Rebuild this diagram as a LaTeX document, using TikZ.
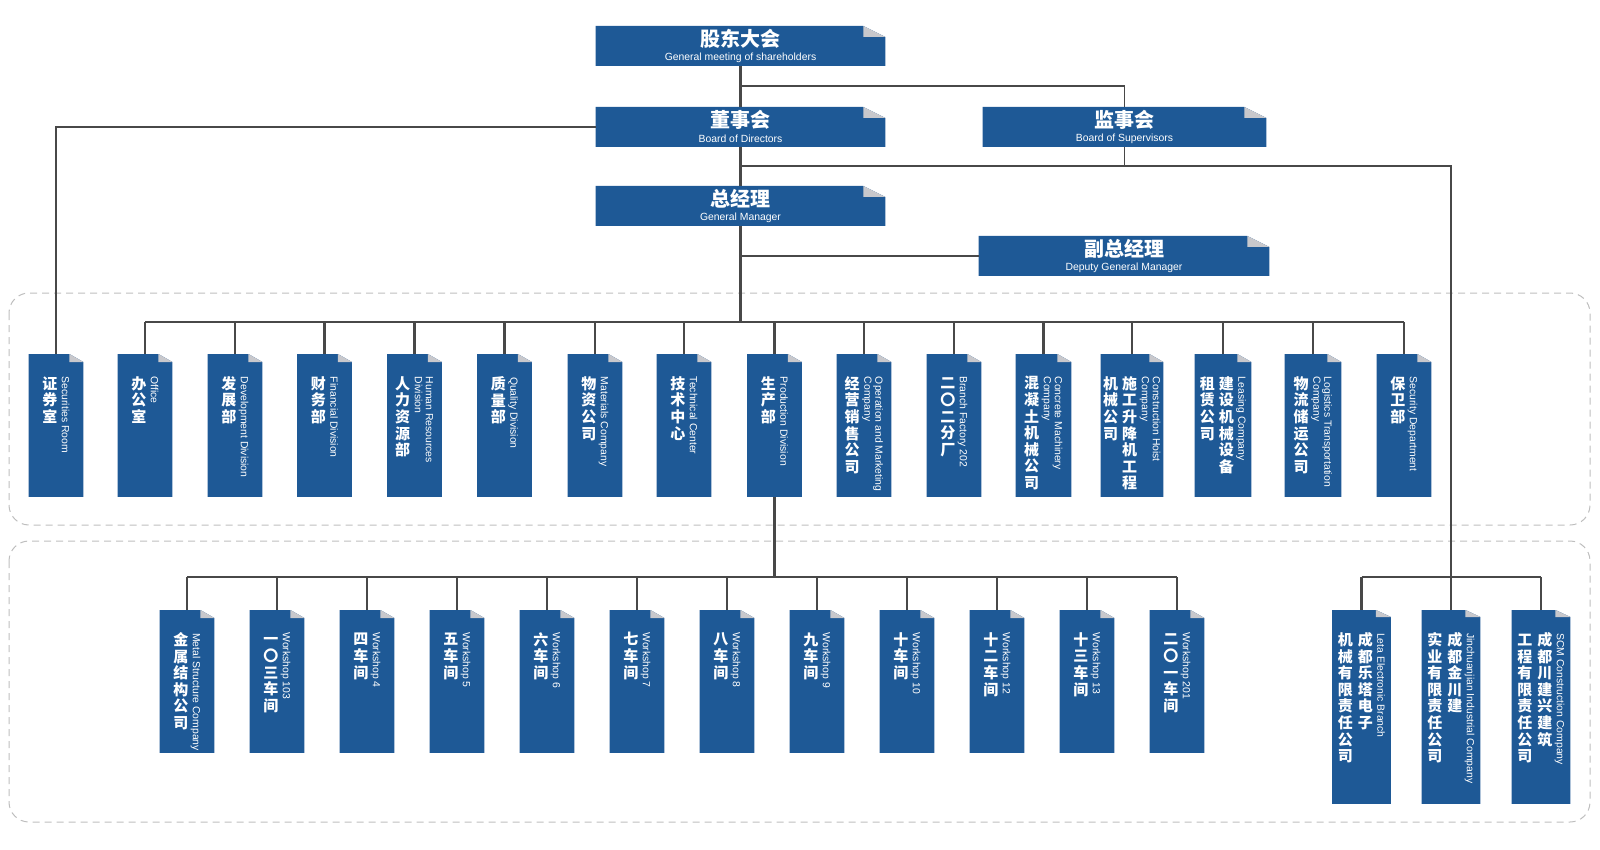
\documentclass[tikz,border=0pt]{standalone}
\usepackage{fontspec}
\usepackage{graphicx}
\setmainfont{Liberation Sans}
\newfontfamily\cjk{Noto Sans CJK SC}
\usepackage{tikz}

\definecolor{boxblue}{RGB}{30,89,150}
\definecolor{eargray}{RGB}{200,200,204}
\definecolor{linkgray}{RGB}{72,72,72}
\definecolor{zonegray}{RGB}{190,190,190}

\makeatletter
\newcommand\cnc[1]{\parbox[t]{1em}{\centering\cnc@next#1\@nil}}
\def\cnc@next#1{\ifx#1\@nil\else#1\par\expandafter\cnc@next\fi}
\makeatother
\newcommand\entag[1]{\hspace{0.6pt}\raisebox{6.2pt}{\rotatebox{-90}{\normalfont\fontsize{5.2}{5.6}\selectfont
  \begin{tabular}{@{}l@{}}#1\end{tabular}}}}
\newcommand\paintbox[3]{%
  \fill[boxblue] (#1.north west) -- ([shift={(-#2,0)}]#1.north east)
    -- ([shift={(0,#3)}]#1.north east) -- (#1.south east) -- (#1.south west) -- cycle;
  \fill[eargray] ([shift={(-#2,0)}]#1.north east) -- ([shift={(-#2,#3)}]#1.north east)
    -- ([shift={(0,#3)}]#1.north east) -- cycle;}

\begin{document}
\begin{tikzpicture}[x=0.5pt, y=-0.5pt,
  orgbox/.style={inner sep=0pt, anchor=north},
  link/.style={draw=linkgray, line width=1.1pt},
  thinlink/.style={draw=linkgray, line width=0.75pt},
  zone/.style={draw=zonegray, line width=0.5pt, dash pattern=on 3.5pt off 2.5pt, rounded corners=10pt},
  headcn/.style={text=white, inner sep=0pt, font=\cjk\bfseries\fontsize{10}{12}\selectfont},
  headen/.style={text=white, inner sep=0pt, font=\fontsize{5.2}{6}\selectfont},
  unittext/.style={text=white, inner sep=0pt, anchor=north, font=\cjk\bfseries\fontsize{7.5}{8.3}\selectfont}]
  \useasboundingbox (0,0) rectangle (1600,850);

  \draw[zone] (9,293) rectangle (1590,525);
  \draw[zone] (9,541) rectangle (1590,822);

  % top level
  \foreach \n/\x/\y/\w/\cn/\en in {
      gm/740.5/26/144.5pt/股东大会/General meeting of shareholders,
      bod/740.5/107/144.5pt/董事会/Board of Directors,
      ceo/740.5/186/144.5pt/总经理/General Manager,
      bos/1124.5/107/141.5pt/监事会/Board of Supervisors,
      dgm/1124/236/145pt/副总经理/Deputy General Manager} {
    \node[orgbox, minimum width=\w, minimum height=19.5pt] (\n) at (\x,\y) {};
    \paintbox{\n}{22}{11}
    \node[headcn] (\n-cn) at ([shift={(0,12.5)}]\n.north) {\cn};
    \node[headen] (\n-en) at ([shift={(0,31.5)}]\n.north) {\en};
  }

  % departments
  \foreach \n/\x/\w/\cn/\en in {
      d1/56/27pt/{\cnc{证券室}}/{Securities Room},
      d2/145/27pt/{\cnc{办公室}}/{Office},
      d3/235/27pt/{\cnc{发展部}}/{Development Division},
      d4/324.5/27pt/{\cnc{财务部}}/{Financial Division},
      d5/414.5/27pt/{\cnc{人力资源部}}/{Human Resources\\Division},
      d6/504.5/27pt/{\cnc{质量部}}/{Quality Division},
      d7/595/27pt/{\cnc{物资公司}}/{Materials Company},
      d8/684/27pt/{\cnc{技术中心}}/{Technical Center},
      d9/774.5/27pt/{\cnc{生产部}}/{Production Division},
      d10/864/27pt/{\cnc{经营销售公司}}/{Operation and Marketing\\Company},
      d11/954/27pt/{\cnc{二〇二分厂}}/{Branch Factory 202},
      d12/1043.5/27.5pt/{\cnc{混凝土机械公司}}/{Concrete Machinery\\Company},
      d13/1132/31pt/{\cnc{机械公司}\hspace{2pt}\cnc{施工升降机工程}}/{Construction Hoist\\Company},
      d14/1223/28pt/{\cnc{租赁公司}\hspace{2pt}\cnc{建设机械设备}}/{Leasing Company},
      d15/1313/28pt/{\cnc{物流储运公司}}/{Logistics Transportation\\Company},
      d16/1404/27pt/{\cnc{保卫部}}/{Security Department}} {
    \node[orgbox, minimum width=\w, minimum height=71pt] (\n) at (\x,354) {};
    \paintbox{\n}{14}{8}
    \node[unittext] (\n-t) at ([shift={(0,22)}]\n.north) {\cn\entag{\en}};
  }

  % workshops
  \foreach \n/\x/\cn/\en in {
      w1/187/{\cnc{金属结构公司}}/{Metal Structure Company},
      w2/277/{\cnc{一〇三车间}}/{Workshop 103},
      w3/367/{\cnc{四车间}}/{Workshop 4},
      w4/457/{\cnc{五车间}}/{Workshop 5},
      w5/547/{\cnc{六车间}}/{Workshop 6},
      w6/637/{\cnc{七车间}}/{Workshop 7},
      w7/727/{\cnc{八车间}}/{Workshop 8},
      w8/817/{\cnc{九车间}}/{Workshop 9},
      w9/907/{\cnc{十车间}}/{Workshop 10},
      w10/997/{\cnc{十二车间}}/{Workshop 12},
      w11/1087/{\cnc{十三车间}}/{Workshop 13},
      w12/1177/{\cnc{二〇一车间}}/{Workshop 201}} {
    \node[orgbox, minimum width=27pt, minimum height=71pt] (\n) at (\x,610) {};
    \paintbox{\n}{14}{8}
    \node[unittext] (\n-t) at ([shift={(0,22)}]\n.north) {\cn\entag{\en}};
  }

  % companies
  \foreach \n/\x/\cn/\en in {
      c1/1361.5/{\cnc{机械有限责任公司}\hspace{2.5pt}\cnc{成都乐塔电子}}/{Leta Electronic Branch},
      c2/1451/{\cnc{实业有限责任公司}\hspace{2.5pt}\cnc{成都金川建}}/{Jinchuanjian Industrial Company},
      c3/1541/{\cnc{工程有限责任公司}\hspace{2.5pt}\cnc{成都川建兴建筑}}/{SCM Construction Company}} {
    \node[orgbox, minimum width=29pt, minimum height=96.5pt] (\n) at (\x,610) {};
    \paintbox{\n}{15}{7}
    \node[unittext] (\n-t) at ([shift={(0,22)}]\n.north) {\cn\entag{\en}};
  }

  % connectors
  \coordinate (j1) at (740.5,86);
  \coordinate (j2) at (740.5,166);
  \coordinate (bus1) at (740.5,322);
  \coordinate (bus2) at (774.5,577);
  \draw[link] (gm) -- (bod);
  \draw[link] (bod) -- (ceo);
  \draw[link] (ceo.south) -- (bus1);
  \draw[thinlink] (j1) -| (bos.north);
  \draw[thinlink] (bos.south) -- (bos.south |- j2);
  \draw[thinlink] (j2) -| (c2.north);
  \draw[link] (bod.west) -| (d1.north);
  \draw[thinlink] (dgm.west -| ceo.south) -- (dgm.west);
  \draw[link] (bus1 -| d2.north) -- (bus1 -| d16.north);
  \foreach \i in {2,...,16}
    \draw[link] (bus1 -| d\i.north) -- (d\i.north);
  \draw[link] (d9.south) -- (bus2);
  \draw[link] (bus2 -| w1.north) -- (bus2 -| w12.north);
  \foreach \i in {1,...,12}
    \draw[link] (bus2 -| w\i.north) -- (w\i.north);
  \draw[link] (bus2 -| c1.north) -- (bus2 -| c3.north);
  \draw[link] (bus2 -| c1.north) -- (c1.north);
  \draw[link] (bus2 -| c3.north) -- (c3.north);
\end{tikzpicture}
\end{document}
